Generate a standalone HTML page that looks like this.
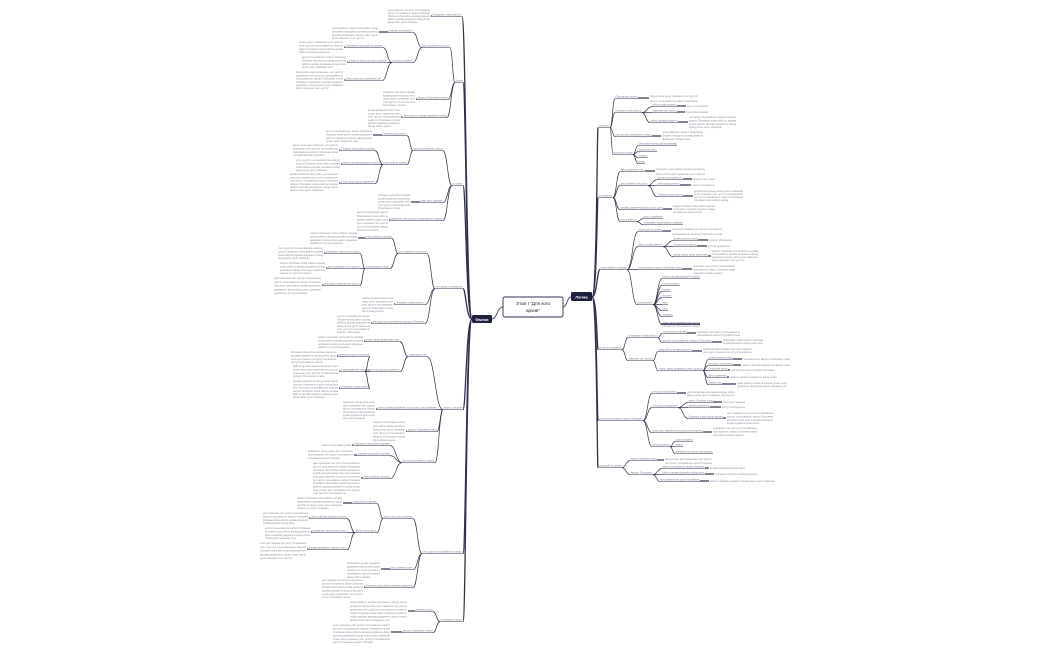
<!DOCTYPE html>
<html><head><meta charset="utf-8"><style>
html,body{margin:0;padding:0;background:#fff;width:1050px;height:650px;overflow:hidden}
svg{display:block}
text{font-family:"Liberation Sans",sans-serif}
</style></head><body>
<svg id="s" width="1050" height="650" viewBox="0 0 1050 650" xmlns="http://www.w3.org/2000/svg">
<g id="g"></g>
<rect x="503" y="297" width="60" height="20" rx="2" fill="#fff" stroke="#2e3050" stroke-width="0.9"/>
<text x="533" y="305" font-size="4.6" text-anchor="middle" fill="#222">Этап I "Для кого</text>
<text x="533" y="312" font-size="4.6" text-anchor="middle" fill="#222">архив"</text>
<rect x="571" y="292" width="21" height="9" rx="1.5" fill="#1f2140"/>
<text x="581.5" y="298.3" font-size="3.6" text-anchor="middle" fill="#fff" font-weight="bold">Логика</text>
<rect x="472" y="315" width="20" height="8" rx="1.5" fill="#1f2140"/>
<text x="482" y="320.8" font-size="3.6" text-anchor="middle" fill="#fff" font-weight="bold">Фактов</text>
<path d="M503 307 C497 307 497 319 492 319" fill="none" stroke="#2e3050" stroke-width="0.8"/>
<path d="M563 307 C567 307 567 297 571 297" fill="none" stroke="#2e3050" stroke-width="0.8"/>
</svg>
<script>
var NS="http://www.w3.org/2000/svg",G=document.getElementById("g");
var LC="#2e3050";
var W="Описание этапа работы архива документы фонд опись дело хранение учет доступ пользователь запрос ".split(" ");
function el(t,a){var e=document.createElementNS(NS,t);for(var k in a)e.setAttribute(k,a[k]);G.appendChild(e);return e;}
function txt(x1,x2,y,sz,col){var w=x2-x1;if(w<3)return;var s="",i=Math.floor(x1+y)%W.length;while(s.length<w/1.4){s+=W[i%W.length]+" ";i++;}
 var e=el("text",{x:x1,y:y,"font-size":sz,fill:col,textLength:w,lengthAdjust:"spacingAndGlyphs"});e.textContent=s.trim();}
function path(d,w){el("path",{d:d,fill:"none",stroke:LC,"stroke-width":w});}
function curve(px,py,cx,cy,w){var k=(cx-px)/2;path("M"+px+" "+py+" C"+(px+k)+" "+py+" "+(cx-k)+" "+cy+" "+cx+" "+cy,w);}
function block(b,side,n){var x1=b[0],x2=b[1],y1=b[2],y2=b[3];var c=Math.max(1,Math.round((y2-y1)/3.4)+1);
 for(var i=0;i<c;i++){var y=c==1?y1:y1+(y2-y1)*i/(c-1);var xe=x2;if(i==c-1&&c>2)xe=x1+(x2-x1)*0.7;txt(x1,xe,y+1.2,2.8,"#8c8c9a");}
 if(side<0){path("M"+(x2+1)+" "+n.y+" L"+n.x1+" "+n.y,1.2);}else{path("M"+n.x2+" "+n.y+" L"+(x1-1)+" "+n.y,1.2);}}
function node(n,side,depth){
 el("line",{x1:n.x1,y1:n.y+0.6,x2:n.x2,y2:n.y+0.6,stroke:LC,"stroke-width":0.5});
 txt(n.x1+0.5,n.x2-0.5,n.y-0.4,2.8,"#7a7a8c");
 if(n.b)block(n.b,side,n);
 (n.c||[]).forEach(function(c){
  if(side<0)curve(n.x1,n.y+0.6,c.x2,c.y+0.6,0.7);else curve(n.x2,n.y+0.6,c.x1,c.y+0.6,0.7);
  node(c,side,depth+1);});
}
function N(x1,x2,y,b,c){return {x1:x1,x2:x2,y:y,b:b,c:c};}
var L=[
N(432,462,16,[388,430,10,22]),
N(455,463,82,null,[
 N(422,450,47,null,[N(388,413,32,[332,378,28,38]),N(392,413,62,null,[N(345,383,47,[299,343,42,52]),N(348,387,62,[302,346,57,67]),N(345,382,80,[296,343,72,88])])]),
 N(417,448,99,[383,415,92,105]),N(402,447,117,[368,400,110,126])]),
N(452,463,185,null,[
 N(413,443,150,null,[N(382,407,135,[326,372,131,141]),N(383,407,164,null,[N(340,375,150,[293,338,145,155]),N(342,380,164,[296,340,160,170]),N(340,375,183,[290,338,174,190])])]),
 N(420,443,202,[378,410,195,208]),N(390,443,220,[357,388,212,230])]),
N(435,463,288,null,[
 N(398,427,253,null,[N(365,392,238,[310,357,233,243]),N(365,390,268,null,[N(325,360,253,[278,323,248,258]),N(327,360,268,[280,325,263,273]),N(323,360,285,[274,321,278,293])])]),
 N(395,425,304,[362,393,298,311]),N(372,425,323,[337,370,316,332])]),
N(443,463,409,null,[
 N(408,427,356,null,[N(365,400,341,[318,363,337,347]),N(365,400,371,null,[N(338,370,356,[291,336,352,362]),N(340,370,371,[293,338,366,376]),N(340,370,388,[293,338,381,397])])]),
 N(377,437,409,[343,375,402,418]),N(407,437,431,[373,405,422,440]),
 N(402,435,462,null,[N(353,390,445,[322,351,445,445]),N(357,390,455,[308,353,451,458]),N(363,390,478,[313,360,463,493])])]),
N(422,463,553,null,[
 N(383,413,518,null,[N(352,377,503,[297,342,498,508]),N(355,377,532,null,[N(310,347,518,[263,308,513,523]),N(312,347,532,[265,310,528,538]),N(308,347,549,[260,306,543,558])])]),
 N(390,413,569,[347,380,563,577]),N(365,413,587,[322,363,580,597])]),
N(440,463,621,null,[N(415,433,611,[350,407,602,620]),N(402,433,632,[333,390,625,642])])
];
var R=[
N(598,610,127,null,[
 N(615,638,98,[650,698,96,101]),
 N(615,642,112,null,[N(652,677,106,[687,708,106,106]),N(652,677,112,[686,708,112,112]),N(650,678,122,[689,736,117,127])]),
 N(615,652,136,[662,703,132,139]),
 N(613,633,154,null,[N(638,677,145),N(638,657,151),N(638,648,157),N(638,645,163)])]),
N(598,613,197,null,[
 N(620,645,171,[656,705,169,174]),
 N(620,648,185,null,[N(657,683,179,[693,715,179,179]),N(657,680,185,[692,715,185,185]),N(657,683,196,[694,743,191,200])]),
 N(620,663,209,[673,715,206,212]),
 N(620,637,221,null,[N(643,663,218),N(643,683,224)])]),
N(600,627,269,null,[
 N(638,662,231,[672,722,229,234]),
 N(638,663,246,null,[N(673,698,240,[709,732,240,240]),N(673,697,246,[708,730,246,246]),N(673,708,256,[712,758,251,260])]),
 N(638,682,269,[693,735,266,273]),
 N(637,653,304,null,[N(662,700,278),N(662,680,285),N(662,670,291),N(662,672,297),N(662,668,304),N(662,668,310),N(662,673,316),N(662,700,324,[662,700,326,326])])]),
N(598,622,349,null,[
 N(628,658,337,null,[N(662,687,333,[697,740,332,335]),N(662,712,342,[723,763,340,343])]),
 N(628,653,360,null,[N(658,692,351,[703,752,349,352]),N(658,703,370,null,[N(708,733,359,[743,790,359,359]),N(708,733,365,[742,790,365,365]),N(708,728,370,[731,775,370,370]),N(708,727,377,[730,777,377,377]),N(708,722,384,[737,787,383,386])])])]),
N(598,643,420,null,[
 N(652,677,393,[687,735,392,395]),
 N(652,678,407,null,[N(688,713,402,[723,745,402,402]),N(688,710,407,[722,745,407,407]),N(688,723,418,[727,773,413,423])]),
 N(652,703,432,[713,757,428,435]),
 N(652,670,446,null,[N(675,693,441),N(675,683,446),N(675,713,453)])]),
N(598,622,467,null,[
 N(630,657,460,[665,712,459,463]),
 N(630,653,474,null,[N(662,705,468,[710,745,468,468]),N(662,705,474,[715,757,474,474]),N(660,700,481,[710,775,481,481])])])
];
L.forEach(function(n){path("M472 319 C466 319 466 "+(n.y+0.6)+" "+n.x2+" "+(n.y+0.6),1.3);node(n,-1,1);});
R.forEach(function(n){path("M592 297 C597 297 597 "+(n.y+0.6)+" "+n.x1+" "+(n.y+0.6),1.3);node(n,1,1);});
</script>
</body></html>
